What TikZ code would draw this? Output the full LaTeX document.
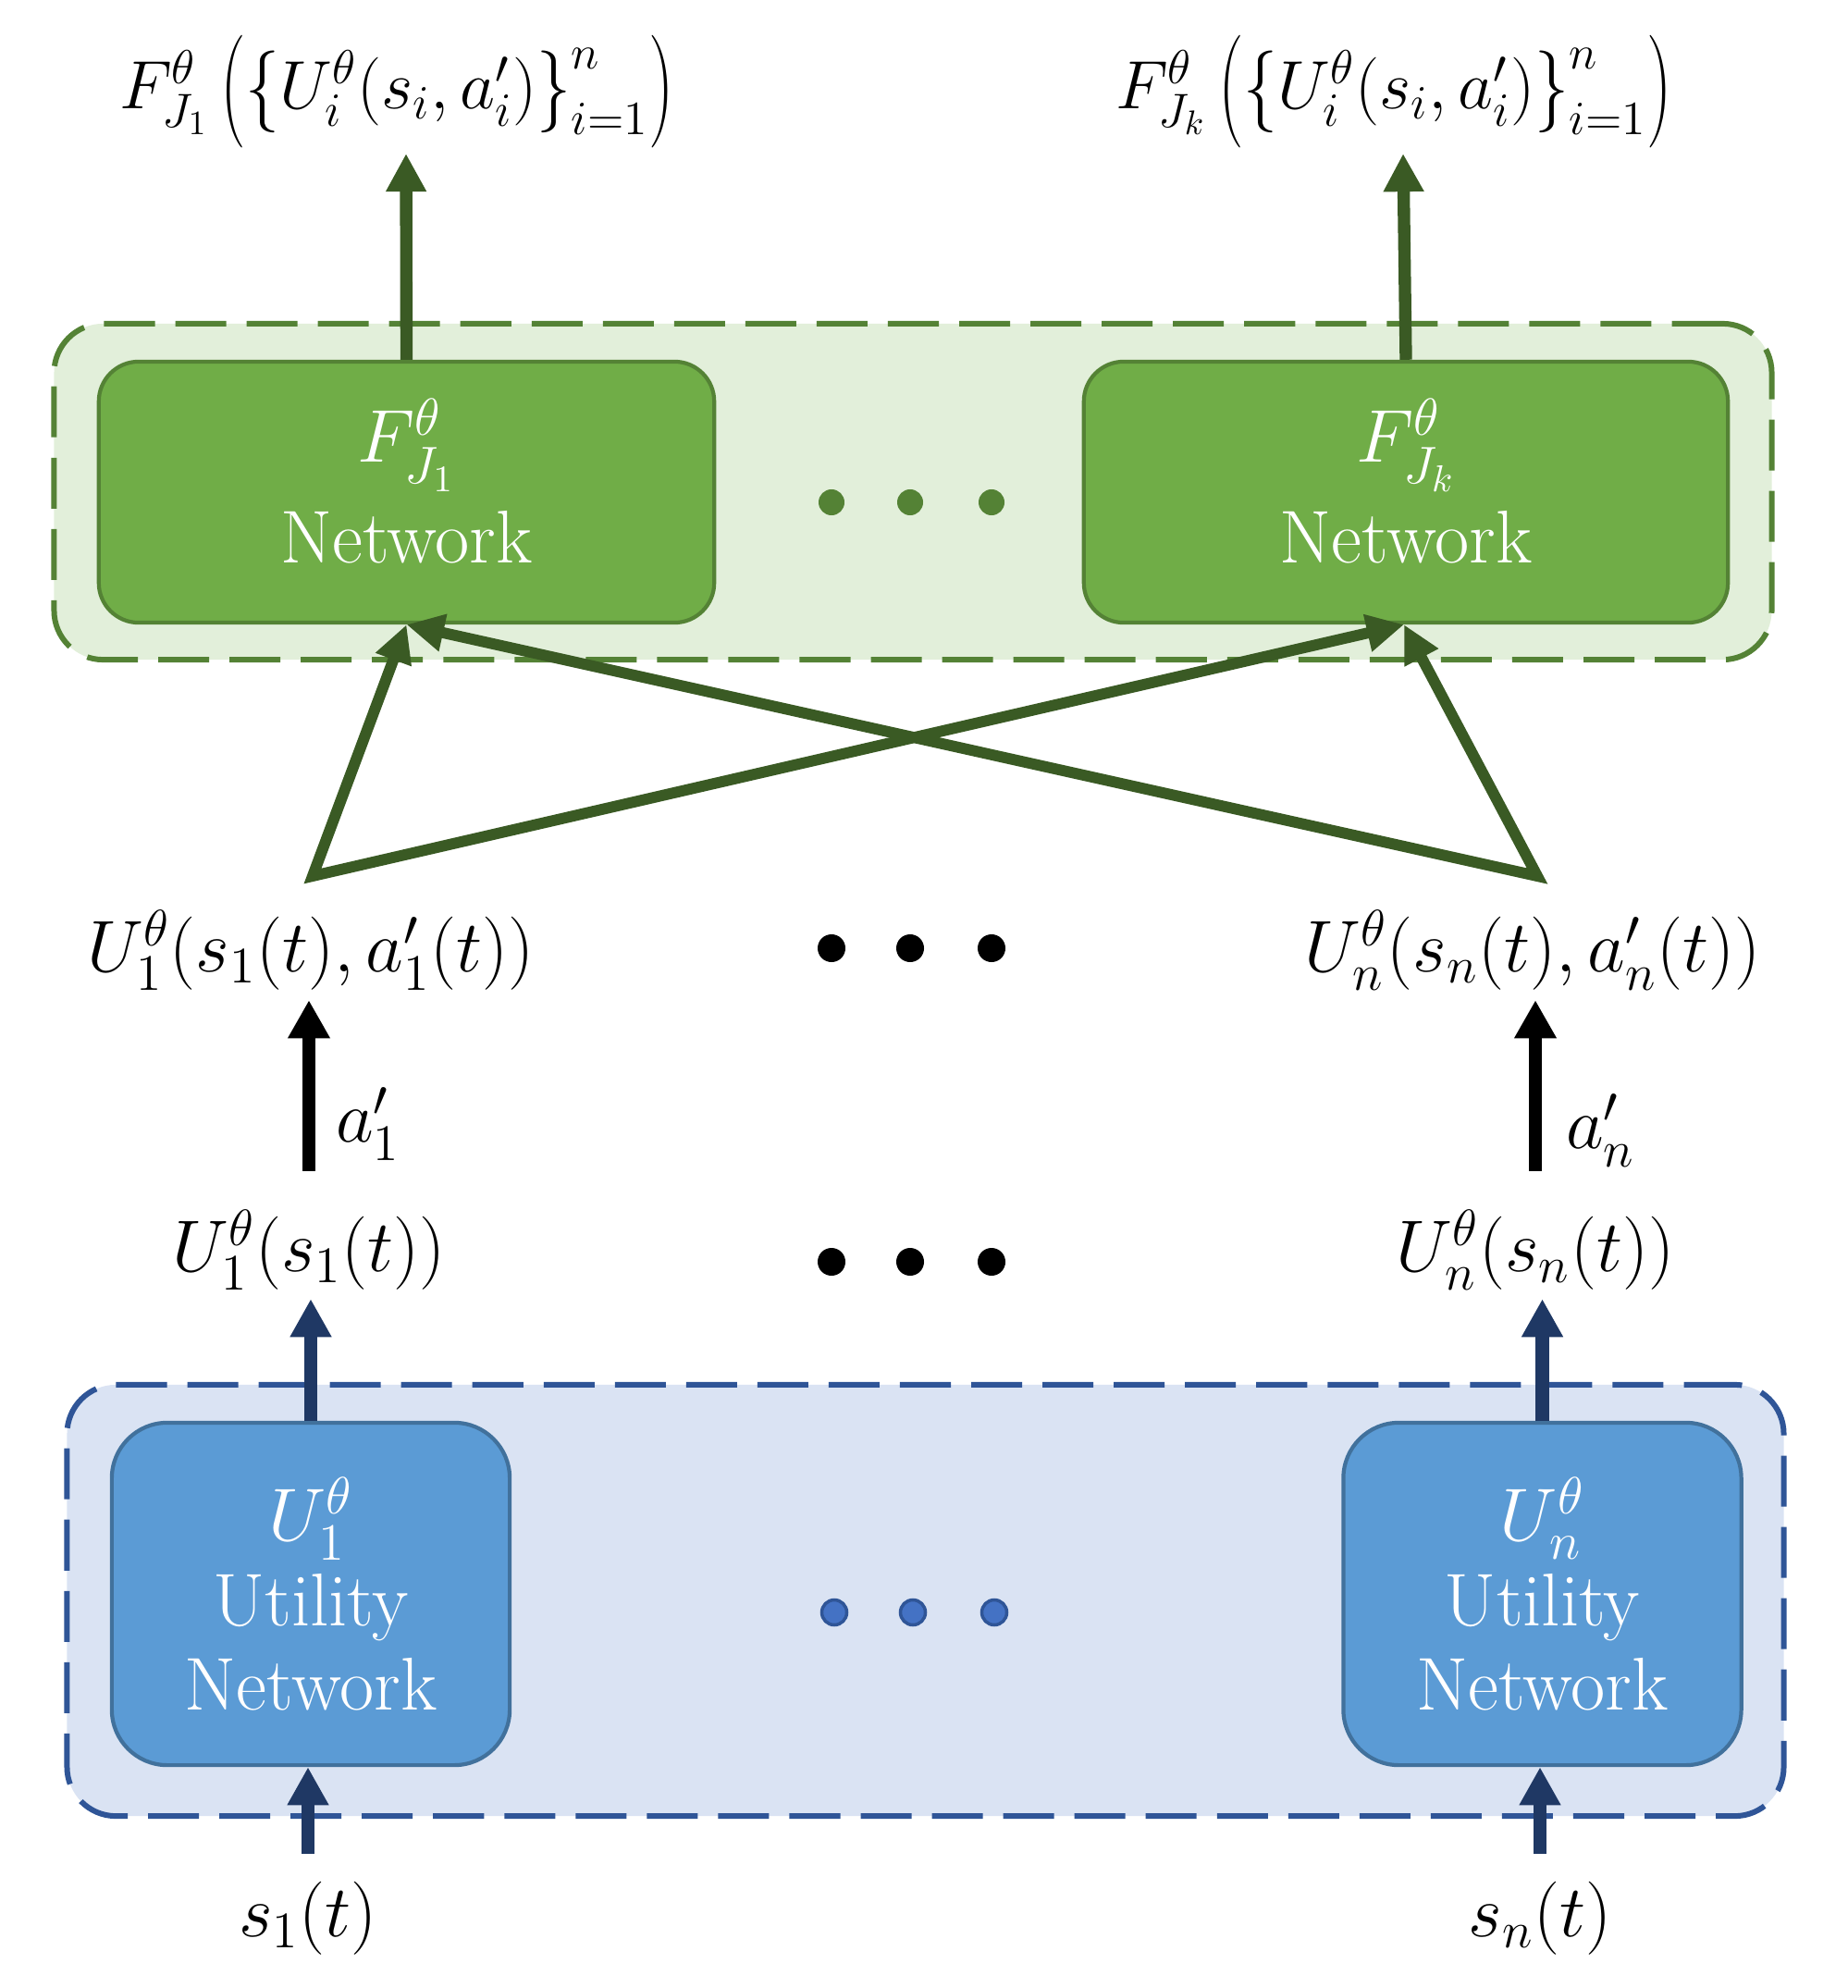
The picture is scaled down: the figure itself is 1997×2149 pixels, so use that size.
\RequirePackage{fix-cm}
\documentclass[tikz,border=0pt]{standalone}
\usepackage{amsmath}
\usepackage{graphicx}
\usetikzlibrary{arrows.meta,calc}
\definecolor{gfillL}{HTML}{E2EFDA}
\definecolor{gline}{HTML}{548235}
\definecolor{gfill}{HTML}{70AD47}
\definecolor{garrow}{HTML}{3A5A24}
\definecolor{bfillL}{HTML}{DAE3F3}
\definecolor{bline}{HTML}{2F5597}
\definecolor{bfill}{HTML}{5B9BD5}
\definecolor{bbord}{HTML}{41719C}
\definecolor{barrow}{HTML}{1F3864}
\definecolor{bdot}{HTML}{4472C4}
\newcommand{\tallopen}{\mathopen{\raisebox{-3.4pt}{\scalebox{1.05}[1.65]{$($}}}}
\newcommand{\tallclose}{\mathclose{\raisebox{-3.4pt}{\scalebox{1.05}[1.65]{$)$}}}}
\newcommand{\bropen}{\mathopen{\raisebox{-1pt}{\scalebox{1}[1.2]{$\{$}}}}
\newcommand{\brclose}{\mathclose{\raisebox{-1pt}{\scalebox{1}[1.2]{$\}$}}}}
\begin{document}
\begin{tikzpicture}[x=0.01cm,y=-0.01cm,
  outerbox/.style={draw, dash pattern=on 0.55cm off 0.22cm, line width=1.7pt, rounded corners=0.53cm, inner sep=0pt},
  gout/.style={outerbox, draw=gline, fill=gfillL, minimum width=18.56cm, minimum height=3.63cm},
  bout/.style={outerbox, draw=bline, fill=bfillL, minimum width=18.55cm, minimum height=4.66cm},
  gnet/.style={draw=gline, line width=1.2pt, fill=gfill, rounded corners=0.43cm, minimum height=2.82cm, text=white, align=center, font=\fontsize{23}{28}\selectfont, inner sep=0pt},
  bnet/.style={draw=bbord, line width=1.2pt, fill=bfill, rounded corners=0.6cm, minimum width=4.3cm, minimum height=3.7cm, text=white, align=center, font=\fontsize{23}{26}\selectfont, inner sep=0pt},
  lbl/.style={inner sep=0pt, font=\fontsize{22.5}{26}\selectfont},
  toplbl/.style={inner sep=0pt, font=\fontsize{21}{25}\selectfont},
  garr/.style={draw=garrow, line width=3.8pt, -{Triangle[length=11.7pt,width=11.7pt]}},
  gcross/.style={draw=garrow, line width=3.4pt, line join=miter, {Triangle[length=11.5pt,width=11pt]}-{Triangle[length=11.5pt,width=11pt]}},
  karr/.style={draw=black, line width=4pt, -{Triangle[length=11.7pt,width=12.2pt]}},
  barr/.style={draw=barrow, line width=4pt, -{Triangle[length=11.7pt,width=12pt]}},
]
\useasboundingbox (0,0) rectangle (1997,2149);

% outer containers
\node[gout] (gbox) at (987,531.5) {};
\node[bout] (bbox) at (1000.5,1730) {};

% green networks
\node[gnet, minimum width=6.65cm] (g1) at (439.5,532) {$F^{\theta}_{J_1}$\\[3pt]Network\rule[-7pt]{0pt}{7pt}};
\node[gnet, minimum width=6.96cm] (g2) at (1520,532) {$F^{\theta}_{J_k}$\\[3pt]Network\rule[-7pt]{0pt}{7pt}};

% blue networks
\node[bnet] (b1) at (336,1723) {$U^{\theta}_{1}$\\Utility\\Network};
\node[bnet] (b2) at (1667.5,1723) {$U^{\theta}_{n}$\\Utility\\Network};

% top labels
\node[toplbl] (f1) at (429,99) {$F^{\theta}_{J_1}\,\tallopen\bropen U^{\theta}_{i}(s_i,a'_i)\brclose_{i=1}^{n}\tallclose$};
\node[toplbl] (f2) at (1507,99) {$F^{\theta}_{J_k}\,\tallopen\bropen U^{\theta}_{i}(s_i,a'_i)\brclose_{i=1}^{n}\tallclose$};
\coordinate (t1) at (439,166);
\coordinate (t2) at (1517,166);

% middle labels
\node[lbl] (u1a) at (336,1027) {$U^{\theta}_{1}(s_1(t),a'_1(t))$};
\node[lbl] (una) at (1657,1027) {$U^{\theta}_{n}(s_n(t),a'_n(t))$};
\node[lbl] (u1s) at (334,1351) {$U^{\theta}_{1}(s_1(t))$};
\node[lbl] (uns) at (1660,1351) {$U^{\theta}_{n}(s_n(t))$};
\node[lbl] (s1) at (333,2074) {$s_1(t)$};
\node[lbl] (sn) at (1665,2074) {$s_n(t)$};

% corner coordinates of the cross connections
\coordinate (cl) at (338,947);
\coordinate (cr) at (1662,947);

% dots
\foreach \x in {899,984,1072} {
  \fill[gline] (\x,543) circle (0.14cm);
  \fill[black] (\x,1025) circle (0.15cm);
  \fill[black] (\x,1364) circle (0.15cm);
  \filldraw[fill=bdot, draw=bline, line width=1pt] (\x+3,1743) circle (0.135cm);
}

% green arrows up
\draw[garr] (g1.north) -- (t1);
\draw[garr] (g2.north) -- (t2);

% cross connections
\draw[gcross] (g1.south) -- (cl) -- ([xshift=-0.02cm]g2.south);
\draw[gcross] (g1.south) -- (cr) -- ([xshift=-0.02cm]g2.south);

% black arrows with labels
\draw[karr, shorten <=0.41cm, shorten >=0.1cm] (u1s.north) -- (u1s.north |- u1a.south)
  node[pos=0.39, right=0.22cm, lbl] (la1) {$a'_1$};
\draw[karr, shorten <=0.41cm, shorten >=0.1cm] (uns.north) -- (uns.north |- una.south)
  node[pos=0.36, right=0.26cm, lbl] (lan) {$a'_n$};

% blue arrows
\draw[barr, shorten >=0.09cm] (b1.north) -- (b1.north |- u1s.south);
\draw[barr, shorten >=0.09cm] (b2.north) -- (b2.north |- uns.south);
\draw[barr, shorten <=0.3cm] (s1.north) -- (s1.north |- b1.south);
\draw[barr, shorten <=0.3cm] (sn.north) -- (sn.north |- b2.south);
\end{tikzpicture}
\end{document}
